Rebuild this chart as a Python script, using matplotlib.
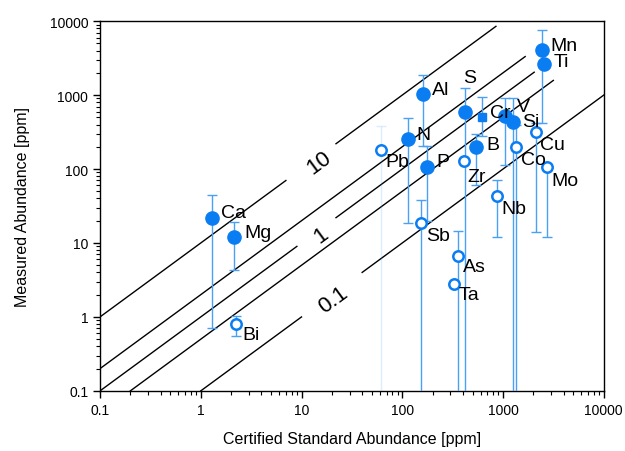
"""
Measured vs certified abundance, log-log with ratio lines
"""
import numpy as np
import matplotlib
matplotlib.use('Agg')
import matplotlib.pyplot as plt
from matplotlib.ticker import LogLocator, FuncFormatter, NullFormatter

plt.rcParams['font.family'] = ['Liberation Sans', 'DejaVu Sans']

# data
elements = ['Ca', 'Mg', 'Bi', 'Al', 'N', 'P', 'Pb', 'S', 'Zr', 'B', 'Cr', 'V',
            'Si', 'Mn', 'Ti', 'Cu', 'Co', 'Mo', 'Nb', 'Sb', 'As', 'Ta']
certified = [1.3, 2.15, 2.25, 160, 113, 176, 61, 419, 410, 538, 618, 1047,
             1260, 2443, 2560, 2130, 1346, 2740, 871, 153, 357, 325]
measured = [22, 12, 0.80, 1030, 254, 106, 181, 589, 128, 198, 503, 520,
            432, 4055, 2624, 316, 198, 106, 43, 18.6, 6.7, 2.8]
err_low = [0.71, 4.3, 0.55, 204, 18.6, 20, 0.01, 0.01, 128, 60, 280, 113,
           0.01, 417, 2624, 14, 0.01, 12, 12, 0.01, 0.01, 2.8]
err_high = [44.5, 19, 1.02, 1860, 490, 204, 380, 1240, 128, 297, 940, 910,
            900, 7560, 2624, 420, 400, 106, 71, 38.5, 14.5, 2.8]
marker_kind = ['filled', 'filled', 'open', 'filled', 'filled', 'filled', 'open',
               'filled', 'open', 'filled', 'square', 'filled', 'filled', 'filled',
               'filled', 'open', 'open', 'open', 'open', 'open', 'open', 'open']

# label offsets in pixels (dx, dy)
label_offsets = {
    'Ca': (9, 5), 'Mg': (10, 5), 'Bi': (6, -10), 'Al': (9, 5), 'S': (5, 35),
    'N': (9, 5), 'P': (9, 6), 'Pb': (5, -12), 'Zr': (3, -15), 'B': (10, 3),
    'Cr': (8, 5), 'V': (12, 10), 'Si': (9, 1), 'Mn': (8, 5), 'Ti': (9, 3),
    'Cu': (4, -12), 'Co': (5, -12), 'Mo': (4, -13), 'Nb': (4, -12),
    'Sb': (5, -12), 'As': (5, -11), 'Ta': (5, -11),
}

# ratio lines: ratio, x start, x end, label, gap (x range) for the label
ratios = [10, 2, 1, 0.5, 0.1]
ratio_x_start = [0.1, 0.1, 0.1, 0.2, 1]
ratio_x_end = [851, 1660, 2040, 3160, 10000]
ratio_labels = ['10', '', '1', '', '0.1']
ratio_gaps = [(7, 22), None, (9, 22), None, (10, 40)]
ratio_label_x = [14.5, None, 15.1, None, 20.3]

blue = '#0A7DF2'
bar_blue = '#4AA0F5'

fig = plt.figure(figsize=(6.25, 4.52), dpi=100)
ax = fig.add_axes([0.16, 0.133, 0.806, 0.818])
ax.set_xscale('log')
ax.set_yscale('log')
ax.set_xlim(0.1, 10000)
ax.set_ylim(0.1, 10000)

angle = np.degrees(np.arctan(74 / 100.5))
for r, x0, x1, lab, gap, lx in zip(ratios, ratio_x_start, ratio_x_end,
                                   ratio_labels, ratio_gaps, ratio_label_x):
    if gap is None:
        segs = [(x0, x1)]
    else:
        segs = [(x0, gap[0]), (gap[1], x1)]
    for a, b in segs:
        xs = np.array([a, b])
        ax.plot(xs, xs * r, color='black', lw=1.0, zorder=2)
    if lab:
        ax.annotate(lab, (lx, lx * r), xytext=(1, -5), textcoords='offset pixels',
                    rotation=angle, rotation_mode='anchor',
                    ha='center', va='center', fontsize=16, zorder=3)

for el, x, y, lo, hi, kind in zip(elements, certified, measured, err_low,
                                  err_high, marker_kind):
    if lo < y or hi > y:
        alpha = 0.18 if el == 'Pb' else 1.0
        ax.errorbar([x], [y], yerr=[[y - lo], [hi - y]], fmt='none',
                    ecolor=bar_blue, elinewidth=1.0, capsize=3.5, capthick=1.0,
                    alpha=alpha, zorder=3)
    if kind == 'filled':
        ax.plot(x, y, 'o', ms=9.5, color=blue, mec=blue, zorder=4)
    elif kind == 'square':
        ax.plot(x, y, 's', ms=6, color=blue, mec=blue, zorder=4)
    else:
        ax.plot(x, y, 'o', ms=7.5, mfc='white', mec=blue, mew=1.8, zorder=4)
    dx, dy = label_offsets[el]
    ha = 'center' if el == 'S' else 'left'
    ax.annotate(el, (x, y), xytext=(dx, dy), textcoords='offset pixels',
                ha=ha, va='center', fontsize=14, zorder=5)

fmt = FuncFormatter(lambda v, p: '{:g}'.format(v))
for axis in (ax.xaxis, ax.yaxis):
    axis.set_major_locator(LogLocator(base=10, numticks=10))
    axis.set_minor_locator(LogLocator(base=10, subs=np.arange(2, 10), numticks=20))
    axis.set_major_formatter(fmt)
    axis.set_minor_formatter(NullFormatter())

ax.tick_params(which='major', direction='out', length=5, width=1, labelsize=10,
               top=False, right=False)
ax.tick_params(which='minor', direction='out', length=3, width=0.8,
               top=False, right=False)
for s in ax.spines.values():
    s.set_linewidth(1.0)

ax.set_xlabel('Certified Standard Abundance [ppm]', fontsize=11.5, labelpad=10)
ax.set_ylabel('Measured Abundance [ppm]', fontsize=11.5, labelpad=14)

plt.savefig('out.png', dpi=100)
